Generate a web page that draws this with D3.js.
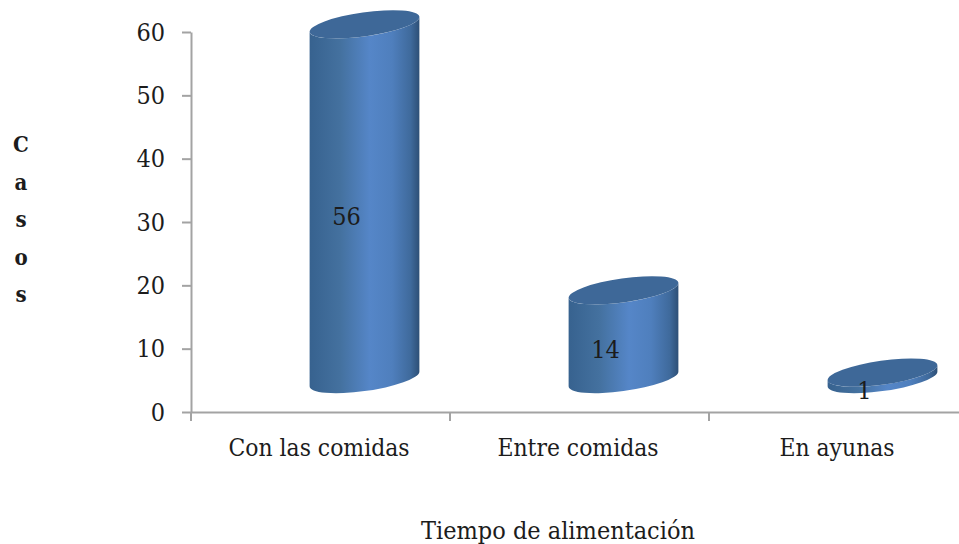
<!DOCTYPE html>
<html>
<head>
<meta charset="utf-8">
<script src="https://cdn.jsdelivr.net/npm/d3@7"></script>
<style>
html,body{margin:0;padding:0;background:#fff}
svg{display:block}
text{font-family:"DejaVu Serif Condensed","DejaVu Serif",serif;font-stretch:condensed;fill:#1c1c1c}
</style>
</head>
<body>
<svg id="chart" width="959" height="544"></svg>
<script>
const categories = ["Con las comidas", "Entre comidas", "En ayunas"];
const casos = [56, 14, 1];
const yTicks = [0, 10, 20, 30, 40, 50, 60];
const yTitleLetters = ["C", "a", "s", "o", "s"];
const xTitle = "Tiempo de alimentación";

const svg = d3.select("#chart");
const margin = {left: 191, top: 32, bottom: 412, right: 968};

const x = d3.scaleBand().domain(categories).range([margin.left, margin.right]);
const y = d3.scaleLinear().domain([0, 60]).range([margin.bottom, margin.top]);

// Shift of the column floor relative to the axis plane (3D depth)
const depthX = 44, depthY = -33;
const rx = 55.4, ry = 12, tilt = -8;

const rad = tilt * Math.PI / 180;
const halfW = Math.sqrt(rx*rx*Math.cos(rad)**2 + ry*ry*Math.sin(rad)**2);
const edgeDy = (rx*rx - ry*ry) * Math.sin(rad) * Math.cos(rad) / halfW;

const defs = svg.append("defs");
const grad = defs.append("linearGradient").attr("id", "cyl").attr("x1", 0).attr("x2", 1).attr("y1", 0).attr("y2", 0);
[[0, "#37628f"], [0.28, "#44719f"], [0.55, "#5586c8"], [0.75, "#4f7fbd"], [0.92, "#3f6a9c"], [1, "#2d4f76"]]
  .forEach(([o, c]) => grad.append("stop").attr("offset", o).attr("stop-color", c));

// y axis
const yAxis = svg.append("g").attr("transform", `translate(${margin.left},0)`)
  .call(d3.axisLeft(y).tickValues(yTicks).tickSize(9).tickSizeOuter(0).tickPadding(17));
// x axis, labels only; separators go on the band edges
const xAxis = svg.append("g").attr("transform", `translate(0,${margin.bottom})`)
  .call(d3.axisBottom(x).tickSize(0).tickSizeOuter(0).tickPadding(27));
[yAxis, xAxis].forEach(g => {
  g.attr("font-family", null).attr("font-size", null);
  g.select(".domain").attr("stroke", "#a3a3a3").attr("stroke-width", 2);
  g.selectAll(".tick line").attr("stroke", "#a3a3a3").attr("stroke-width", 2);
  g.selectAll("text").style("font-size", "25px").attr("fill", "#1c1c1c");
});
xAxis.selectAll("text").style("font-size", "24.4px").attr("dx", -1.5);
xAxis.selectAll(".sep").data(categories).enter().append("line").attr("class", "sep")
  .attr("x1", d => x(d)).attr("x2", d => x(d)).attr("y1", 0).attr("y2", 9)
  .attr("stroke", "#a3a3a3").attr("stroke-width", 2);

// cylinders
const groups = svg.selectAll(".col").data(categories.map((c, i) => ({c, v: casos[i]}))).enter()
  .append("g").attr("class", "col");
groups.each(function(d) {
  const g = d3.select(this);
  const cx = x(d.c) + x.bandwidth()/2 + depthX;
  const yB = y(0) + depthY, yT = y(d.v) + depthY;
  const body = `M${cx-halfW},${yT-edgeDy} L${cx-halfW},${yB-edgeDy}` +
    ` A${rx},${ry} ${tilt} 0 0 ${cx+halfW},${yB+edgeDy}` +
    ` L${cx+halfW},${yT+edgeDy}` +
    ` A${rx},${ry} ${tilt} 0 1 ${cx-halfW},${yT-edgeDy} Z`;
  g.append("path").attr("d", body).attr("fill", "url(#cyl)");
  g.append("ellipse").attr("rx", rx).attr("ry", ry).attr("fill", "#3e6898")
    .attr("transform", `translate(${cx},${yT}) rotate(${tilt})`);
  g.append("text").attr("x", cx - 18).attr("y", (yT + yB)/2 + 15)
    .attr("text-anchor", "middle").attr("dominant-baseline", "central")
    .style("font-size", "25px").text(d.v);
});

// axis titles
svg.selectAll(".ylet").data(yTitleLetters).enter().append("text").attr("class", "ylet")
  .attr("x", 21).attr("y", (d, i) => 144 + i * 37.5)
  .attr("text-anchor", "middle").attr("dominant-baseline", "central")
  .style("font-size", "22px").style("font-weight", "bold").text(d => d);
svg.append("text").attr("x", 558).attr("y", 539).attr("text-anchor", "middle")
  .style("font-size", "25px").text(xTitle);
</script>
</body>
</html>
